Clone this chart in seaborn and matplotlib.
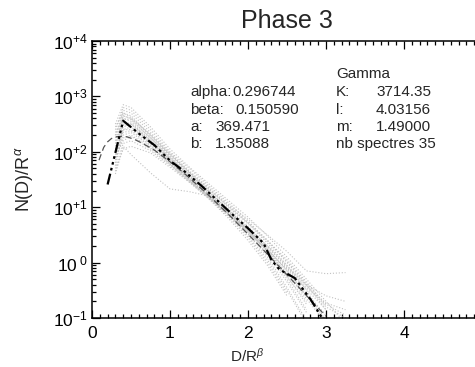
import numpy as np
import pandas as pd
import matplotlib
matplotlib.use("Agg")
import matplotlib.pyplot as plt
from matplotlib.ticker import MultipleLocator, LogLocator, FixedLocator, NullFormatter
import seaborn as sns

# shared D/R^beta grid for the grey spectra
d_grid = [0.3, 0.4, 0.5, 0.75, 1.0, 1.25, 1.5, 1.75, 2.0, 2.25, 2.5, 2.75, 3.0, 3.25]
nan = np.nan
# log10(N(D)/R^alpha) of each spectrum
spectra_log = [
    [2.50, 2.85, 2.80, 2.45, 2.05, 1.72, 1.42, 1.12, 0.82, 0.48, 0.10, -0.30, -0.70, -1.10],
    [2.40, 2.80, 2.75, 2.40, 2.00, 1.70, 1.38, 1.08, 0.75, 0.40, 0.00, -0.40, -0.85, nan],
    [2.30, 2.75, 2.70, 2.35, 1.98, 1.65, 1.35, 1.05, 0.78, 0.50, 0.20, -0.15, -0.20, -0.18],
    [2.20, 2.70, 2.65, 2.30, 1.95, 1.62, 1.30, 1.00, 0.70, 0.35, -0.05, -0.50, -1.05, nan],
    [2.10, 2.65, 2.60, 2.28, 1.92, 1.60, 1.28, 0.95, 0.60, 0.20, -0.25, -0.75, nan, nan],
    [2.00, 2.60, 2.58, 2.25, 1.90, 1.58, 1.27, 0.97, 0.65, 0.30, -0.10, -0.45, -0.73, -0.85],
    [1.90, 2.50, 2.52, 2.22, 1.88, 1.55, 1.22, 0.90, 0.55, 0.15, -0.35, -0.90, nan, nan],
    [1.80, 2.45, 2.50, 2.20, 1.86, 1.52, 1.20, 0.88, 0.52, 0.10, -0.45, -1.05, nan, nan],
    [1.75, 2.40, 2.45, 2.18, 1.85, 1.52, 1.22, 0.92, 0.62, 0.30, -0.05, -0.42, -0.80, -1.00],
    [2.35, 2.60, 2.55, 2.25, 1.90, 1.57, 1.25, 0.93, 0.58, 0.20, -0.30, -0.85, nan, nan],
    [2.25, 2.55, 2.50, 2.20, 1.85, 1.50, 1.18, 0.85, 0.48, 0.05, -0.50, -1.10, nan, nan],
    [2.15, 2.50, 2.45, 2.15, 1.82, 1.50, 1.18, 0.88, 0.58, 0.25, -0.15, -0.60, -1.05, nan],
    [2.05, 2.35, 2.38, 2.12, 1.80, 1.48, 1.15, 0.80, 0.40, -0.05, -0.60, nan, nan, nan],
    [1.95, 2.30, 2.35, 2.10, 1.78, 1.47, 1.17, 0.87, 0.55, 0.22, -0.12, -0.48, -0.85, nan],
    [1.85, 2.25, 2.30, 2.08, 1.80, 1.50, 1.20, 0.90, 0.60, 0.28, -0.08, -0.40, -0.60, -0.70],
    [1.70, 2.15, 2.20, 2.02, 1.75, 1.45, 1.15, 0.83, 0.45, 0.00, -0.55, nan, nan, nan],
    [1.65, 2.05, 2.10, 1.98, 1.72, 1.45, 1.16, 0.86, 0.52, 0.15, -0.25, -0.70, nan, nan],
    [1.60, 2.10, 1.95, 1.62, 1.33, 1.28, 1.20, 0.92, 0.60, 0.25, -0.15, -0.55, -0.95, nan],
    [2.45, 2.70, 2.62, 2.30, 1.95, 1.63, 1.32, 1.02, 0.72, 0.40, 0.05, -0.35, -0.78, nan],
    [2.00, 2.40, 2.40, 2.15, 1.82, 1.50, 1.20, 0.90, 0.58, 0.22, -0.20, -0.65, -1.10, nan],
    [1.90, 2.20, 2.28, 2.05, 1.77, 1.47, 1.18, 0.88, 0.56, 0.20, -0.20, -0.60, -0.95, nan],
    [2.30, 2.65, 2.60, 2.32, 1.97, 1.64, 1.33, 1.03, 0.72, 0.38, 0.02, -0.38, -0.75, -0.95],
]

# mean spectrum (black dash-dot-dot-dot)
mean_d = [0.2, 0.4, 0.6, 0.8, 1.0, 1.2, 1.4, 1.6, 1.8, 2.0, 2.2, 2.3, 2.4, 2.6, 2.8, 2.95]
mean_log = [1.41, 2.56, 2.33, 2.12, 1.84, 1.63, 1.39, 1.13, 0.87, 0.62, 0.35, 0.05, -0.12, -0.28, -0.66, -1.0]

# gamma fit (dashed)
gamma_d = [0.09, 0.15, 0.2, 0.25, 0.3, 0.37, 0.45, 0.55, 0.65, 0.8, 1.0, 1.2, 1.5, 1.8, 2.1, 2.4, 2.7, 3.0]
gamma_log = [1.85, 2.08, 2.18, 2.24, 2.27, 2.28, 2.27, 2.22, 2.15, 2.03, 1.82, 1.59, 1.21, 0.80, 0.37, -0.07, -0.52, -0.97]

x_ticks = [0, 1, 2, 3, 4]
y_ticks = [1e-1, 1, 1e1, 1e2, 1e3, 1e4]
y_labels = [r"10$^{-1}$", r"10$^{\ 0}$", r"10$^{+1}$", r"10$^{+2}$", r"10$^{+3}$", r"10$^{+4}$"]

left_lines = [("alpha:", "0.296744", 232), ("beta:", "0.150590", 235),
              ("a:", "369.471", 215), ("b:", "1.35088", 215)]
right_lines = [("K:", "3714.35"), ("l:", "4.03156"), ("m:", "1.49000")]

rows = []
for i, vals in enumerate(spectra_log):
    for d, v in zip(d_grid, vals):
        rows.append({"spectre": i, "d": d, "n": 10 ** v})
df = pd.DataFrame(rows).dropna()

sns.set_theme(style="ticks")
plt.rcParams["font.family"] = ["Liberation Sans", "DejaVu Sans"]
plt.rcParams["mathtext.fontset"] = "custom"
plt.rcParams["mathtext.rm"] = "Liberation Sans"
plt.rcParams["mathtext.it"] = "Liberation Sans:italic"
plt.rcParams["mathtext.bf"] = "Liberation Sans:bold"

fig = plt.figure(figsize=(4.75, 3.67), dpi=100)
# the plot box runs past the right edge of the picture, as in the original
ax = fig.add_axes([92 / 475, 1 - 318 / 367, 390 / 475, 277 / 367])
ax.set_yscale("log")

sns.lineplot(data=df, x="d", y="n", units="spectre", estimator=None,
             color="#c2c2c2", lw=0.8, linestyle=":", ax=ax, legend=False)
sns.lineplot(x=gamma_d, y=[10 ** v for v in gamma_log], color="#555555",
             lw=0.9, linestyle=(0, (5, 3)), ax=ax)
sns.lineplot(x=mean_d, y=[10 ** v for v in mean_log], color="black",
             lw=1.6, linestyle=(0, (5, 1.5, 1.2, 1.5, 1.2, 1.5, 1.2, 1.5)), ax=ax)

ax.set_xlim(0, 5)
ax.set_ylim(1e-1, 1e4)
ax.xaxis.set_major_locator(FixedLocator(x_ticks))
ax.xaxis.set_minor_locator(MultipleLocator(0.1))
ax.set_xticklabels([str(t) for t in x_ticks])
ax.yaxis.set_major_locator(FixedLocator(y_ticks))
ax.yaxis.set_minor_locator(LogLocator(base=10, subs=np.arange(2, 10)))
ax.yaxis.set_minor_formatter(NullFormatter())
ax.set_yticklabels(y_labels)
ax.tick_params(which="both", direction="in", top=True, right=False,
               width=0.9, colors="black", labelsize=12.5)
ax.tick_params(which="major", length=6)
ax.tick_params(which="minor", length=3)
ax.tick_params(axis="y", pad=3)
ax.tick_params(axis="x", pad=6)
for sp in ax.spines.values():
    sp.set_linewidth(1.1)
    sp.set_color("black")

ax.set_title("Phase 3", fontsize=18, pad=9)
ax.set_xlabel(r"D/R$^{\beta}$", fontsize=11)
ax.xaxis.set_label_coords(0.397, -0.105)
ax.set_ylabel(r"N(D)/R$^{\alpha}$", fontsize=13)
ax.yaxis.set_label_coords(-0.146, 0.5)

fs = 11
row_y = [92, 110, 127, 144]
for (lab, val, vx), y in zip(left_lines, row_y):
    fig.text(190 / 475, 1 - y / 367, lab, fontsize=fs, va="center")
    fig.text(vx / 475, 1 - y / 367, val, fontsize=fs, va="center")
fig.text(336 / 475, 1 - 74 / 367, "Gamma", fontsize=fs, va="center")
for (lab, val), y in zip(right_lines, row_y[:3]):
    fig.text(336 / 475, 1 - y / 367, lab, fontsize=fs, va="center")
    fig.text(376 / 475, 1 - y / 367, val, fontsize=fs, va="center")
fig.text(336 / 475, 1 - 144 / 367, "nb spectres 35", fontsize=fs, va="center")

fig.savefig("out.png", dpi=100)
